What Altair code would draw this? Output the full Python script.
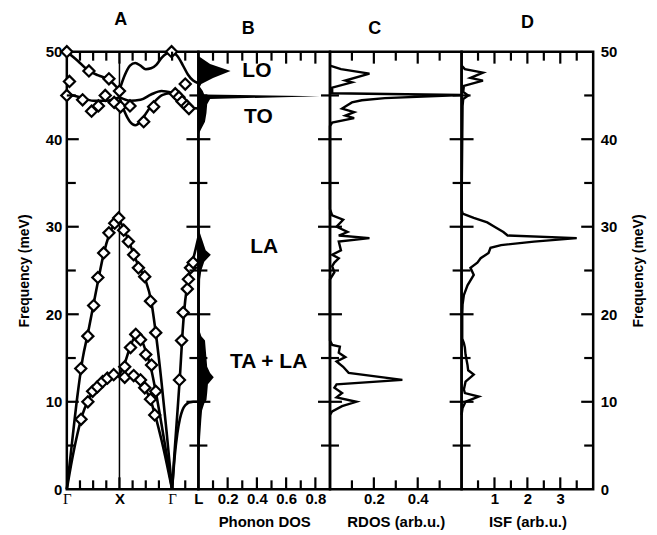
import altair as alt
import pandas as pd

W, H = 132, 439
FONT = "Liberation Sans"

# ---------------- Panel A: dispersion (u = path coordinate, f = meV) -------------
# path: Gamma(0) - X(1) - Gamma(2) - L(2.5)
LA_GX_u = [0, 0.1, 0.2, 0.3, 0.4, 0.5, 0.6, 0.7, 0.8, 0.9, 1.0]
LA_GX_f = [0, 5.4, 10.6, 14.9, 17.8, 20.9, 24.0, 26.9, 29.0, 30.3, 30.8]
TA_GX_u = [0, 0.1, 0.2, 0.3, 0.4, 0.5, 0.6, 0.7, 0.8, 0.9, 1.0]
TA_GX_f = [0, 3.4, 6.3, 8.6, 10.1, 11.2, 12.0, 12.5, 12.8, 13.0, 13.1]
XG_u = [1.0, 1.1, 1.2, 1.3, 1.4, 1.5, 1.6, 1.7, 1.8, 1.9, 2.0]
LA_XG_f = [30.8, 29.5, 28.0, 26.4, 25.1, 23.8, 21.6, 17.4, 12.2, 6.3, 0]
TA1_XG_f = [13.1, 14.4, 16.2, 17.4, 17.2, 15.8, 13.8, 10.8, 7.4, 3.8, 0]
TA2_XG_f = [13.1, 12.9, 13.0, 12.9, 12.4, 11.4, 10.0, 8.0, 5.6, 2.9, 0]
GL_u = [2.0, 2.05, 2.1, 2.15, 2.2, 2.25, 2.3, 2.35, 2.4, 2.45, 2.5]
LA_GL_f = [0, 4.5, 8.7, 13.0, 18.0, 21.6, 23.6, 25.2, 26.3, 27.5, 28.8]
TA_GL_f = [0, 3.8, 6.4, 8.1, 9.1, 9.6, 9.85, 9.95, 10.0, 10.0, 10.0]
LO_GX_u = [0, 0.2, 0.42, 0.6, 0.8, 1.0]
LO_GX_f = [50.0, 49.0, 47.8, 47.3, 46.8, 45.6]
TO_GX_u = [0, 0.25, 0.5, 0.75, 1.0]
TO_GX_f = [45.2, 44.8, 44.4, 44.4, 44.8]
LO_XG_f = [45.6, 47.3, 48.4, 48.7, 48.4, 48.0, 48.1, 48.5, 49.3, 49.8, 50.0]
TO1_XG_u = [1.0, 1.2, 1.4, 1.6, 1.8, 2.0]
TO1_XG_f = [44.8, 44.4, 44.5, 45.1, 45.5, 45.3]
TO2_XG_u = [1.0, 1.1, 1.2, 1.3, 1.4, 1.5, 1.6, 1.7, 1.8, 2.0]
TO2_XG_f = [44.8, 43.1, 42.0, 41.6, 42.0, 42.9, 43.8, 44.5, 45.0, 45.3]
OPT_GL_u = [2.0, 2.1, 2.2, 2.3, 2.4, 2.5]
LO_GL_f = [50.0, 49.5, 48.5, 47.4, 46.7, 46.4]
TO_GL_f = [45.3, 45.0, 44.5, 43.9, 43.6, 43.5]

# measured points (diamonds)
pts_u = [0.265, 0.40, 0.51, 0.59, 0.70, 0.80, 0.91, 0.985,
         0.27, 0.40, 0.49, 0.58, 0.68, 0.77, 0.89,
         1.08, 1.17, 1.27, 1.36, 1.48, 1.59, 1.69,
         1.10, 1.21, 1.31, 1.40, 1.50, 1.61, 1.69,
         1.10, 1.27, 1.40, 1.48, 1.59, 1.67,
         2.14, 2.18, 2.21, 2.29, 2.31, 2.35, 2.40,
         0.0, 0.05, 0.0, 0.42, 0.80, 1.0, 0.3, 0.47, 0.6, 0.73, 0.9, 1.02,
         1.2, 1.46, 1.65, 1.99, 2.06, 2.13, 2.19, 2.28, 2.32, 2.25]
pts_f = [13.8, 17.5, 21.0, 24.2, 27.0, 29.3, 30.4, 31.0,
         8.0, 10.0, 11.2, 11.7, 12.3, 12.7, 13.1,
         29.6, 28.3, 26.8, 25.3, 24.3, 21.5, 17.9,
         14.0, 16.2, 17.7, 17.1, 15.4, 14.2, 11.2,
         12.8, 13.0, 12.5, 11.6, 10.3, 8.5,
         12.5, 17.0, 20.2, 22.9, 24.0, 25.3, 25.9,
         50.0, 46.6, 45.0, 47.8, 46.9, 45.5, 44.5, 43.2, 43.8, 45.0, 44.2, 43.7,
         43.8, 42.0, 43.7, 50.0, 45.2, 44.8, 44.3, 43.8, 43.5, 46.3]

# ---------------- Panel B: phonon DOS ----------------
dos_f = [0, 2, 4, 6, 8, 9, 9.8, 10.2, 11, 12, 12.8, 13.3, 14, 15, 16, 17, 17.5, 18,
         20, 22, 24, 25, 26, 26.8, 27.3, 27.8, 28.3, 28.8, 29.3, 30, 31, 35, 40.5, 41.2,
         42, 43, 44, 44.6, 44.9, 45.1, 45.5, 46, 46.3, 47, 47.8, 48.6, 49.5, 50]
dos_v = [0, 0.002, 0.006, 0.012, 0.02, 0.025, 0.04, 0.055, 0.06, 0.065, 0.105, 0.08,
         0.06, 0.055, 0.05, 0.045, 0.02, 0.01, 0.01, 0.01, 0.012, 0.02, 0.04, 0.085,
         0.05, 0.04, 0.03, 0.02, 0.01, 0.005, 0, 0, 0, 0.02, 0.045, 0.055, 0.06, 0.08,
         0.83, 0.04, 0.03, 0.01, 0.02, 0.1, 0.22, 0.08, 0.0, 0]

# ---------------- Panel C: RDOS ----------------
rdos_f = [8.5, 8.9, 9.5, 10.0, 10.5, 11.0, 11.6, 12.0, 12.5, 13.3, 14.0, 14.6, 15.1,
          15.6, 16.3, 16.5, 17, 24, 24.8, 25.5, 25.9, 26.4, 26.8, 27.3, 28.3, 28.7,
          29.0, 29.4, 30.0, 30.8, 31.3, 32, 41.5, 41.9, 42.4, 42.7, 43.1, 43.5, 44.2,
          44.45, 44.7, 45.05, 45.25, 45.9, 46.5, 46.7, 47.5, 48.0, 48.4]
rdos_v = [0, 0.01, 0.055, 0.12, 0.03, 0.055, 0.02, 0.03, 0.33, 0.085, 0.06, 0.03,
          0.07, 0.04, 0.045, 0.01, 0, 0, 0.02, 0.01, 0.02, 0.04, 0.01, 0.05, 0.04,
          0.18, 0.04, 0.08, 0.03, 0.06, 0.01, 0, 0, 0.01, 0.11, 0.07, 0.11, 0.055,
          0.10, 0.145, 0.25, 0.6, 0.01, 0.01, 0.10, 0.07, 0.18, 0.05, 0.0]

# ---------------- Panel D: ISF ----------------
isf_f = [8.5, 9.3, 10.0, 10.6, 11.0, 11.4, 12.3, 13.1, 13.6, 14.2, 15.4, 16.2, 16.7,
         17.2, 20, 21.1, 22.2, 23.3, 24.5, 25.3, 25.9, 26.4, 27.0, 27.6, 27.9, 28.3,
         28.7, 29.0, 29.4, 30.0, 30.5, 31.0, 31.5, 32, 40, 43.8, 44.6, 45.0, 45.4,
         46.1, 46.7, 47.0, 47.6, 48.0, 48.4]
isf_v = [0, 0.03, 0.12, 0.52, 0.1, 0.07, 0.12, 0.37, 0.2, 0.18, 0.12, 0.1, 0.07,
         0.02, 0.02, 0.03, 0.07, 0.18, 0.37, 0.27, 0.48, 0.58, 0.82, 0.88, 1.2, 2.2,
         3.5, 1.4, 1.27, 1.0, 0.78, 0.37, 0.03, 0.0, 0.02, 0.03, 0.05, 0.2, 0.05,
         0.07, 0.65, 0.27, 0.65, 0.1, 0.0]

# annotation labels in panel B
ann_text = ["LO", "TO", "LA", "TA + LA"]
ann_x = [0.40, 0.41, 0.45, 0.48]
ann_f = [47.8, 42.5, 27.7, 14.6]

# ---------------- helpers ----------------
YSCALE = alt.Scale(domain=[0, 50], nice=False, zero=False)


def axprops(**over):
    d = dict(labelFont=FONT, labelFontWeight="bold", labelFontSize=15, labelColor="black",
             titleFont=FONT, titleFontWeight="bold", titleFontSize=15, titleColor="black",
             domain=False, ticks=False, grid=False, labelFlush=False, labelOverlap=False)
    d.update(over)
    return d


def frame_ticks(X, Y, x_major, x_minor):
    layers = []
    for vals, L in (([10, 20, 30, 40], 12), ([5, 15, 25, 35, 45], 9)):
        d = pd.DataFrame({"f": vals})
        layers.append(alt.Chart(d).mark_rule(color="black", strokeWidth=2.2).encode(
            y=Y, x=alt.value(0), x2=alt.value(L)))
        layers.append(alt.Chart(d).mark_rule(color="black", strokeWidth=2.2).encode(
            y=Y, x=alt.value(W), x2=alt.value(W - L)))
    for vals, L in ((x_major, 12), (x_minor, 9)):
        if not vals:
            continue
        d = pd.DataFrame({"x": vals})
        layers.append(alt.Chart(d).mark_rule(color="black", strokeWidth=2.2).encode(
            x=X, y=alt.value(0), y2=alt.value(L)))
        layers.append(alt.Chart(d).mark_rule(color="black", strokeWidth=2.2).encode(
            x=X, y=alt.value(H), y2=alt.value(H - L)))
    return layers


def ptitle(t, dx):
    return alt.TitleParams(text=t, font=FONT, fontSize=18, fontWeight="bold",
                           color="black", anchor="middle", offset=9, dy=-4, dx=dx)


XPAD = dict(labelPadding=2, titlePadding=8)

# ---------------- Panel A ----------------
branches = [
    ("LA_GX", LA_GX_u, LA_GX_f), ("TA_GX", TA_GX_u, TA_GX_f),
    ("LA_XG", XG_u, LA_XG_f), ("TA1_XG", XG_u, TA1_XG_f), ("TA2_XG", XG_u, TA2_XG_f),
    ("LA_GL", GL_u, LA_GL_f), ("TA_GL", GL_u, TA_GL_f),
    ("LO_GX", LO_GX_u, LO_GX_f), ("TO_GX", TO_GX_u, TO_GX_f),
    ("LO_XG", XG_u, LO_XG_f), ("TO1_XG", TO1_XG_u, TO1_XG_f), ("TO2_XG", TO2_XG_u, TO2_XG_f),
    ("LO_GL", OPT_GL_u, LO_GL_f), ("TO_GL", OPT_GL_u, TO_GL_f),
]
rows = []
for name, us, fs in branches:
    for u, f in zip(us, fs):
        rows.append({"branch": name, "x": u, "f": f})
disp = pd.DataFrame(rows)
pts = pd.DataFrame({"x": pts_u, "f": pts_f})

YA = alt.Y("f:Q", scale=YSCALE, axis=alt.Axis(
    values=[0, 10, 20, 30, 40, 50], title="Frequency (meV)", orient="left",
    **axprops(labelPadding=5, titlePadding=14, titleFontSize=14)))
GTEST = "datum.value == 0 || datum.value == 2"
XA = alt.X("x:Q", scale=alt.Scale(domain=[0, 2.5], nice=False, zero=False), axis=alt.Axis(
    values=[0, 1, 2, 2.5], title=None,
    labelExpr="datum.value == 1 ? 'X' : (datum.value == 2.5 ? 'L' : 'Γ')",
    **axprops(labelPadding=2,
              labelFont={"condition": {"test": GTEST, "value": "Liberation Serif"}, "value": FONT},
              labelFontWeight={"condition": {"test": GTEST, "value": "normal"}, "value": "bold"})))

xline = alt.Chart(pd.DataFrame({"x": [1.0]})).mark_rule(color="black", strokeWidth=1.5).encode(x=XA)
lines = alt.Chart(disp).mark_line(color="black", strokeWidth=2.6, interpolate="monotone").encode(
    x=XA, y=YA, detail="branch:N")
dia = alt.Chart(pts).mark_point(shape="diamond", filled=True, fill="white", stroke="black",
                                strokeWidth=2.2, size=125, opacity=1).encode(x=XA, y=YA)
panelA = alt.layer(xline, lines, dia,
                   *frame_ticks(XA, YA, [1.0], [0.25, 0.5, 0.75, 1.25, 1.5, 1.75, 2.0, 2.25])
                   ).properties(width=W, height=H, title=ptitle("A", -12))

# ---------------- Panel B ----------------
YN = alt.Y("f:Q", scale=YSCALE, axis=None)
BSCALE = alt.Scale(domain=[0, 0.9], nice=False, zero=False)
XB = alt.X("x:Q", scale=BSCALE, axis=alt.Axis(
    values=[0.2, 0.4, 0.6, 0.8], format=".1f", title="Phonon DOS", **axprops(**XPAD)))
dosdf = pd.DataFrame({"x": dos_v, "f": dos_f})
area = alt.Chart(dosdf).mark_area(color="black", fill="black", orient="horizontal", opacity=1).encode(
    x=alt.X("x:Q", scale=BSCALE, stack=None, axis=alt.Axis(
        values=[0.2, 0.4, 0.6, 0.8], format=".1f", title="Phonon DOS", **axprops(**XPAD))),
    y=YN)
anndf = pd.DataFrame({"t": ann_text, "x": ann_x, "f": ann_f})
ann = alt.Chart(anndf).mark_text(font=FONT, fontSize=21, fontWeight="bold", color="black",
                                 align="center", baseline="middle").encode(x=XB, y=YN, text="t:N")
panelB = alt.layer(area, ann, *frame_ticks(XB, YN, [0.2, 0.4, 0.6, 0.8], [0.1, 0.3, 0.5, 0.7])
                   ).properties(width=W, height=H, title=ptitle("B", -16))

# ---------------- Panel C ----------------
XC = alt.X("x:Q", scale=alt.Scale(domain=[0, 0.6], nice=False, zero=False), axis=alt.Axis(
    values=[0.2, 0.4], format=".1f", title="RDOS (arb.u.)", **axprops(**XPAD)))
rdf = pd.DataFrame({"x": rdos_v, "f": rdos_f})
rline = alt.Chart(rdf).mark_line(color="black", strokeWidth=2.4).encode(x=XC, y=YN, order="f:Q")
panelC = alt.layer(rline, *frame_ticks(XC, YN, [0.2, 0.4], [0.1, 0.3, 0.5])
                   ).properties(width=W, height=H, title=ptitle("C", -21))

# ---------------- Panel D ----------------
YD = alt.Y("f:Q", scale=YSCALE, axis=alt.Axis(
    values=[0, 10, 20, 30, 40, 50], title="Frequency (meV)", orient="right",
    **axprops(labelPadding=7, titlePadding=15, titleAngle=270, titleBaseline="top",
              titleFontSize=14)))
XD = alt.X("x:Q", scale=alt.Scale(domain=[0, 4], nice=False, zero=False), axis=alt.Axis(
    values=[1, 2, 3], format="d", title="ISF (arb.u.)", **axprops(**XPAD)))
idf = pd.DataFrame({"x": isf_v, "f": isf_f})
iline = alt.Chart(idf).mark_line(color="black", strokeWidth=2.4).encode(x=XD, y=YD, order="f:Q")
panelD = alt.layer(iline, *frame_ticks(XD, YD, [1, 2, 3], [0.5, 1.5, 2.5, 3.5])
                   ).properties(width=W, height=H, title=ptitle("D", 0))

chart = alt.hconcat(panelA, panelB, panelC, panelD, spacing=0, bounds="flush",
                    padding={"left": 8, "top": 0, "right": 2, "bottom": 0},
                    background="white").configure_view(stroke="black", strokeWidth=2.5)

chart.save("out.html", embed_options={"renderer": "svg", "actions": False})
